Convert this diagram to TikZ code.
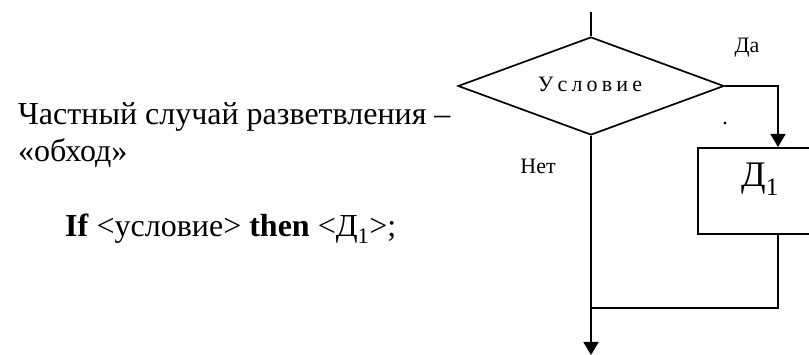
\documentclass[tikz,border=0pt]{standalone}
\usepackage{fontspec}
\setmainfont{Liberation Serif}
\usetikzlibrary{shapes.geometric,arrows.meta}
\newcommand{\lk}{\kern4.2pt}
\begin{document}
\begin{tikzpicture}[x=1pt,y=-1pt,
  flow/.style={line width=1.7pt},
  arr/.style={flow,-{Triangle[width=15pt,length=13pt]}},
  lbl/.style={font=\fontsize{22}{26}\selectfont,inner sep=0pt},
  main/.style={font=\fontsize{32}{37}\selectfont,inner sep=0pt,anchor=base west}]
\useasboundingbox (0,0) rectangle (809,355);
\clip (0,0) rectangle (809,355);
% left text
\node[main] (t1) at (18,125) {Частный случай разветвления –};
\node[main] (t2) at (18,162) {«обход»};
\node[main] (t3) at (65,237) {\textbf{If} <условие> \textbf{then} <Д\textsubscript{1}>;};
% flowchart
\coordinate (top) at (591,12);
\node[diamond,draw,flow,minimum width=266pt,minimum height=98pt,inner sep=0pt] (cond) at (591,86) {};
\node[font=\fontsize{22}{26}\selectfont,inner sep=0pt,anchor=base] (condt) at (590,92) {У\lk с\lk л\lk о\lk в\lk и\lk е};
\node[draw,flow,minimum width=162pt,minimum height=86pt,anchor=north west,inner sep=0pt] (d1) at (697,147) {};
\node[main,font=\fontsize{36}{40}\selectfont] (d1t) at (741,187) {Д\textsubscript{1}};
\node[lbl] (yes) at (747,48) {Да};
\node[lbl] (no) at (538,166) {Нет};
\node[lbl,anchor=base] (dot) at (725,125) {.};
\coordinate (join) at (591,308);
\coordinate (end) at (591,355);
\draw[flow] (top) -- (cond.north);
\draw[arr] (cond.east) -| (d1.north -| 778,0);
\draw[flow] (d1.south -| 778,0) |- (join);
\draw[arr] (cond.south) -- (end);
\end{tikzpicture}
\end{document}
